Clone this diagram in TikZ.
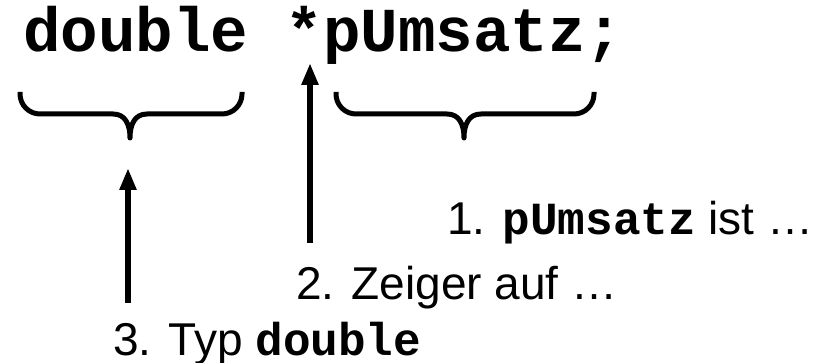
\documentclass[tikz,border=0pt]{standalone}
\usepackage{fontspec}
\setmainfont{Liberation Sans}
\setmonofont{Liberation Mono}
\usetikzlibrary{arrows.meta}
\begin{document}
\begin{tikzpicture}[x=1pt,y=-1pt,
  brace/.style={line width=5pt, line join=round},
  ptr/.style={line width=6pt, -{Triangle[length=22pt,width=16pt]}},
  lab/.style={anchor=base west, inner sep=0pt, font=\fontsize{46}{50}\selectfont},
  code/.style={anchor=base west, inner sep=0pt, font=\fontsize{62.5}{70}\selectfont\ttfamily\bfseries}]
\useasboundingbox (0,0) rectangle (827,363);
\node[code] (decl) at (23,52) {double *pUmsatz;};
\node[lab] (l1) at (447,235) {1. \texttt{\textbf{pUmsatz}} ist …};
\node[lab] (l2) at (296,300) {2. Zeiger auf …};
\node[lab] (l3) at (113,355) {3. Typ \texttt{\textbf{double}}};
% braces
\draw[brace] (20,92) -- (20,94) .. controls (20,105) and (29,114) .. (40,114) -- (113,114)
  .. controls (125,114) and (130,124) .. (130,138)
  .. controls (130,124) and (135,114) .. (147,114) -- (222,114)
  .. controls (233,114) and (242,105) .. (242,94) -- (242,92);
\draw[brace] (336,92) -- (336,94) .. controls (336,105) and (345,114) .. (356,114) -- (447,114)
  .. controls (459,114) and (464,124) .. (464,138)
  .. controls (464,124) and (469,114) .. (481,114) -- (574,114)
  .. controls (585,114) and (594,105) .. (594,94) -- (594,92);
% arrows
\coordinate (s2) at (310,243);
\coordinate (t2) at (310,63);
\coordinate (s3) at (128,303);
\coordinate (t3) at (128,168);
\draw[ptr] (s2) -- (t2);
\draw[ptr] (s3) -- (t3);
\end{tikzpicture}
\end{document}
